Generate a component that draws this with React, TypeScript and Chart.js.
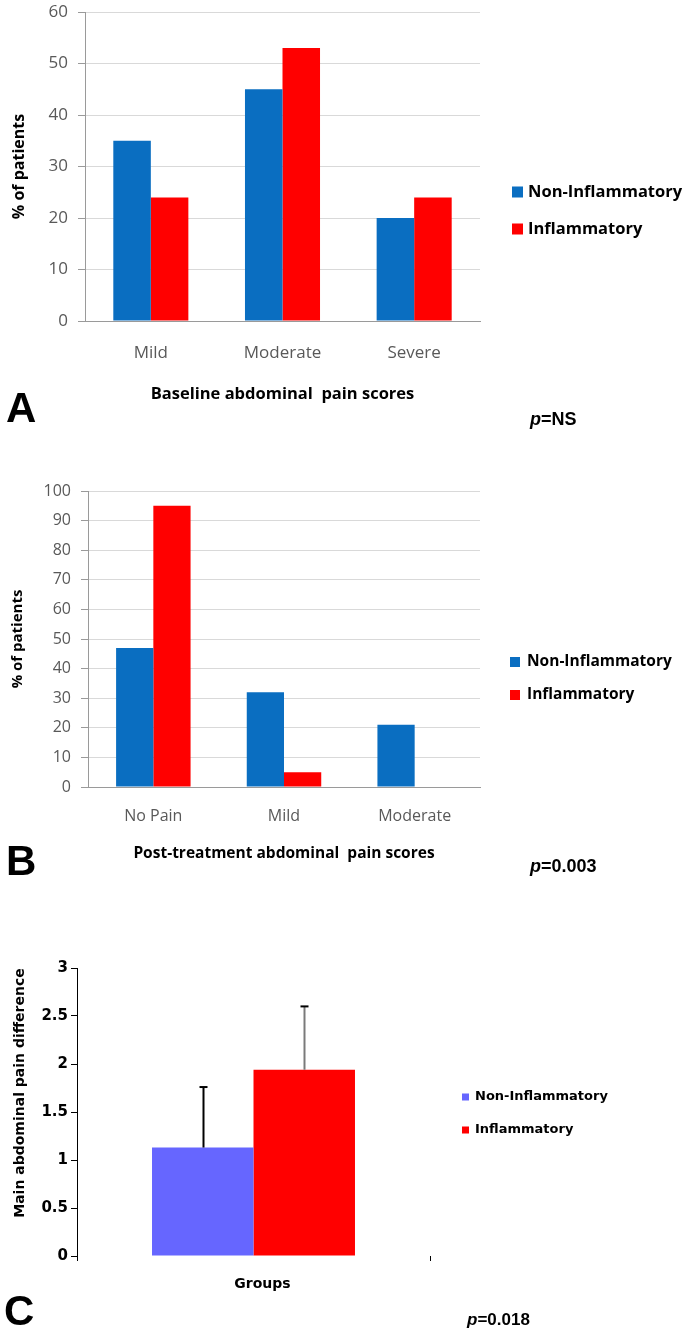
import React, { useEffect, useRef } from "react";
import { Chart, registerables } from "chart.js";

Chart.register(...registerables);

// ---------- data ----------
const seriesNames = ["Non-Inflammatory", "Inflammatory"];

const baselineCategories = ["Mild", "Moderate", "Severe"];
const baselineNonInflammatory = [35, 45, 20];
const baselineInflammatory = [24, 53, 24];

const postCategories = ["No Pain", "Mild", "Moderate"];
const postNonInflammatory = [47, 32, 21];
const postInflammatory = [95, 5, 0];

const groupCategories = ["Groups"];
const diffNonInflammatory = [1.13];
const diffInflammatory = [1.94];
const diffErrNonInflammatory = [0.63];
const diffErrInflammatory = [0.66];

const panelLetters = ["A", "B", "C"];
const pValues = ["NS", "0.003", "0.018"];

const titleA = "Baseline abdominal  pain scores";
const titleB = "Post-treatment abdominal  pain scores";
const yTitleAB = "% of patients";
const yTitleC = "Main abdominal pain difference";

// ---------- plugins ----------
const sideLegend = {
  id: "sideLegend",
  afterDraw(chart: any, _a: any, o: any) {
    if (!o || !o.display) return;
    const ctx = chart.ctx;
    ctx.save();
    chart.data.datasets.forEach((ds: any, i: number) => {
      const cy = o.y + i * o.dy;
      ctx.fillStyle = ds.backgroundColor;
      ctx.fillRect(o.x, cy - o.box / 2, o.box, o.box);
      ctx.fillStyle = o.color;
      ctx.font = o.font;
      ctx.textBaseline = "middle";
      ctx.textAlign = "left";
      ctx.fillText(ds.label, o.textX, cy);
    });
    ctx.restore();
  },
};

const panelText = {
  id: "panelText",
  afterDraw(chart: any, _a: any, o: any) {
    if (!o || !o.items) return;
    const ctx = chart.ctx;
    o.items.forEach((it: any) => {
      ctx.save();
      ctx.fillStyle = it.color || "#000";
      if (it.rotate) {
        ctx.translate(it.x, it.y);
        ctx.rotate(-Math.PI / 2);
        ctx.font = it.font;
        ctx.textAlign = "center";
        ctx.textBaseline = "middle";
        ctx.fillText(it.text, 0, 0);
      } else {
        let x = it.x;
        ctx.textAlign = "left";
        ctx.textBaseline = "alphabetic";
        const base = it.y + it.cap / 2;
        it.parts.forEach((p: any) => {
          ctx.font = p.font;
          ctx.fillText(p.text, x, base);
          x += ctx.measureText(p.text).width;
        });
      }
      ctx.restore();
    });
  },
};

const errorBars = {
  id: "errorBars",
  afterDatasetsDraw(chart: any, _a: any, o: any) {
    if (!o || !o.errors) return;
    const ctx = chart.ctx;
    const y = chart.scales.y;
    chart.data.datasets.forEach((ds: any, i: number) => {
      const meta = chart.getDatasetMeta(i);
      const errs = o.errors[i];
      meta.data.forEach((el: any, j: number) => {
        const v = ds.data[j];
        const top = y.getPixelForValue(v + errs[j]);
        const x = Math.round(el.x) + 0.5;
        ctx.save();
        ctx.lineWidth = 2;
        ctx.strokeStyle = o.lineColors[i];
        ctx.beginPath();
        ctx.moveTo(x, el.y);
        ctx.lineTo(x, top);
        ctx.stroke();
        ctx.strokeStyle = "#000";
        ctx.beginPath();
        ctx.moveTo(x - 4, top);
        ctx.lineTo(x + 4, top);
        ctx.stroke();
        ctx.restore();
      });
    });
  },
};

const CAL = "'Open Sans', Lato, sans-serif";
const ARIAL = "'Liberation Sans', Arial, sans-serif";
const DJV = "'DejaVu Sans', sans-serif";

function pParts(val: string, size: number) {
  return [
    { text: "p", font: `italic bold ${size}px ${ARIAL}` },
    { text: "=" + val, font: `bold ${size}px ${ARIAL}` },
  ];
}

function excelConfig(labels: string[], a: number[], b: number[], opts: any) {
  return {
    type: "bar",
    data: {
      labels,
      datasets: [
        { label: seriesNames[0], data: a, backgroundColor: "#0a6ec1", borderWidth: 0 },
        { label: seriesNames[1], data: b, backgroundColor: "#ff0000", borderWidth: 0 },
      ],
    },
    options: {
      animation: false,
      responsive: false,
      maintainAspectRatio: false,
      layout: { padding: { left: 0, right: opts.right, top: opts.top, bottom: 0 } },
      datasets: { bar: { barPercentage: 1, categoryPercentage: 0.57 } },
      plugins: {
        legend: { display: false },
        tooltip: { enabled: false },
        sideLegend: opts.legend,
        panelText: { items: opts.texts },
      },
      scales: {
        x: {
          afterFit: (s: any) => { s.height = opts.xHeight; },
          grid: { display: false, drawTicks: false },
          border: { display: true, color: "#9a9a9a", width: 1 },
          ticks: {
            color: "#595959",
            font: { family: CAL, size: opts.tickSize },
            padding: opts.xTickPad,
            maxRotation: 0,
            autoSkip: false,
          },
          title: {
            display: true,
            text: opts.xTitle,
            color: "#000",
            font: { family: CAL, size: opts.xTitleSize, weight: "bold" },
            padding: { top: 0, bottom: opts.xTitlePad },
          },
        },
        y: {
          min: 0,
          max: opts.max,
          afterFit: (s: any) => { s.width = opts.yWidth; },
          grid: {
            color: "#d9d9d9",
            tickColor: "#9a9a9a",
            tickLength: 7,
            drawTicks: true,
          },
          border: { display: true, color: "#9a9a9a", width: 1 },
          ticks: {
            stepSize: 10,
            color: "#595959",
            font: { family: CAL, size: opts.tickSize },
            padding: 10,
          },
          title: {
            display: true,
            text: yTitleAB,
            color: "#000",
            font: { family: CAL, size: opts.yTitleSize, weight: "bold" },
            padding: { top: opts.yTitlePad, bottom: 0 },
          },
        },
      },
    },
    plugins: [sideLegend, panelText],
  };
}

// canvas A is placed 10px above the page top, so its coordinates are page y + 10
function configA() {
  return excelConfig(baselineCategories, baselineNonInflammatory, baselineInflammatory, {
    right: 205,
    top: 22,
    xHeight: 119,
    tickSize: 17,
    xTickPad: 22,
    xTitle: titleA,
    xTitleSize: 16.5,
    xTitlePad: 36,
    max: 60,
    yWidth: 85,
    yTitleSize: 16,
    yTitlePad: 10,
    legend: { display: true, x: 512, y: 202, dy: 37, box: 11, textX: 528, color: "#000", font: `bold 16.5px ${CAL}` },
    texts: [
      { x: 6, y: 417, cap: 30, parts: [{ text: panelLetters[0], font: `bold 42px ${ARIAL}` }] },
      { x: 530, y: 429, cap: 12, parts: pParts(pValues[0], 18) },
    ],
  });
}

function configB() {
  return excelConfig(postCategories, postNonInflammatory, postInflammatory, {
    right: 205,
    top: 31,
    xHeight: 93,
    tickSize: 16,
    xTickPad: 20,
    xTitle: titleB,
    xTitleSize: 15.5,
    xTitlePad: 17,
    max: 100,
    yWidth: 88,
    yTitleSize: 15,
    yTitlePad: 9,
    legend: { display: true, x: 510, y: 202, dy: 33, box: 10, textX: 527, color: "#000", font: `bold 15.5px ${CAL}` },
    texts: [
      { x: 6, y: 400, cap: 30, parts: [{ text: panelLetters[1], font: `bold 42px ${ARIAL}` }] },
      { x: 530, y: 406, cap: 12, parts: pParts(pValues[1], 18) },
    ],
  });
}

function configC() {
  return {
    type: "bar",
    data: {
      labels: groupCategories,
      datasets: [
        { label: seriesNames[0], data: diffNonInflammatory, backgroundColor: "#6666ff", borderWidth: 0 },
        { label: seriesNames[1], data: diffInflammatory, backgroundColor: "#ff0000", borderWidth: 0 },
      ],
    },
    options: {
      animation: false,
      responsive: false,
      maintainAspectRatio: false,
      layout: { padding: { left: 0, right: 255, top: 18, bottom: 0 } },
      datasets: { bar: { barPercentage: 1, categoryPercentage: 0.575 } },
      plugins: {
        legend: { display: false },
        tooltip: { enabled: false },
        sideLegend: { display: true, x: 462, y: 147, dy: 33, box: 7, textX: 475, color: "#000", font: `bold 13px ${DJV}` },
        errorBars: { errors: [diffErrNonInflammatory, diffErrInflammatory], lineColors: ["#000", "#7a7a7a"] },
        panelText: {
          items: [
            { rotate: true, x: 20, y: 143, text: yTitleC, font: `bold 14px ${DJV}` },
            { x: 4, y: 360, cap: 30, parts: [{ text: panelLetters[2], font: `bold 42px ${ARIAL}` }] },
            { x: 467, y: 369, cap: 12, parts: pParts(pValues[2], 17) },
          ],
        },
      },
      scales: {
        x: {
          afterFit: (s: any) => { s.height = 76; },
          grid: {
            display: true,
            drawOnChartArea: false,
            drawTicks: true,
            tickLength: 5,
            color: "#000",
            tickColor: "#000",
            offset: true,
          },
          border: { display: false },
          ticks: {
            color: "#000",
            font: { family: DJV, size: 14, weight: "bold" },
            padding: 15,
            labelOffset: 9,
            maxRotation: 0,
          },
        },
        y: {
          min: 0,
          max: 3,
          afterFit: (s: any) => { s.width = 77; },
          grid: {
            drawOnChartArea: false,
            drawTicks: true,
            tickLength: 6,
            color: "#000",
            tickColor: "#000",
          },
          border: { display: true, color: "#000", width: 1 },
          ticks: {
            stepSize: 0.5,
            color: "#000",
            font: { family: DJV, size: 15, weight: "bold" },
            padding: 3,
            callback: (v: any) => String(Number(v)),
          },
        },
      },
    },
    plugins: [sideLegend, panelText, errorBars],
  };
}

function ChartCanvas({ make, top, height }: { make: () => any; top: number; height: number }) {
  const ref = useRef<HTMLCanvasElement | null>(null);
  useEffect(() => {
    if (!ref.current) return;
    const chart = new Chart(ref.current, make());
    return () => chart.destroy();
  }, [make]);
  return (
    <canvas
      ref={ref}
      width={685}
      height={height}
      style={{ position: "absolute", left: 0, top, width: 685, height, display: "block" }}
    />
  );
}

export default function App() {
  return (
    <div style={{ position: "absolute", left: 0, top: 0, width: 685, height: 1332, background: "#fff", overflow: "hidden" }}>
      <ChartCanvas make={configA} top={-10} height={450} />
      <ChartCanvas make={configB} top={460} height={420} />
      <ChartCanvas make={configC} top={950} height={382} />
    </div>
  );
}
